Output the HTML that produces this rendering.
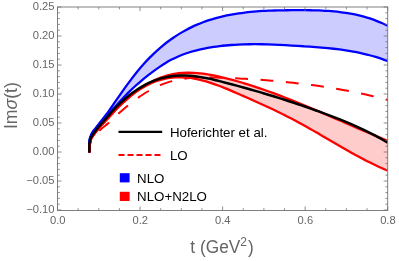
<!DOCTYPE html>
<html><head><meta charset="utf-8"><title>plot</title>
<style>html,body{margin:0;padding:0;background:#fff;}svg{display:block;will-change:transform;}</style></head>
<body>
<svg width="399" height="261" viewBox="0 0 399 261">
<defs><clipPath id="c"><rect x="57.50" y="7.00" width="330.20" height="203.50"/></clipPath></defs>
<rect width="399" height="261" fill="#fff"/>
<g clip-path="url(#c)" fill="none" stroke-linejoin="round">
<path d="M89.40,152.50 C89.37,151.25 89.20,147.00 89.20,145.00 C89.20,143.00 89.28,141.67 89.40,140.50 C89.52,139.33 89.60,139.00 89.90,138.00 C90.20,137.00 90.63,135.67 91.20,134.50 C91.77,133.33 92.67,131.92 93.30,131.00 C93.93,130.08 93.03,131.50 95.00,129.00 C96.97,126.50 102.78,119.00 105.10,116.00 C107.42,113.00 107.47,113.02 108.90,111.00 C110.33,108.98 111.91,106.50 113.70,103.89 C115.49,101.28 117.67,98.16 119.66,95.33 C121.64,92.50 123.63,89.67 125.61,86.92 C127.60,84.17 129.58,81.45 131.57,78.85 C133.56,76.24 135.54,73.69 137.53,71.26 C139.51,68.84 141.50,66.52 143.48,64.29 C145.47,62.07 147.45,59.94 149.44,57.91 C151.42,55.88 153.41,53.95 155.40,52.10 C157.38,50.25 159.37,48.49 161.35,46.81 C163.34,45.14 165.32,43.55 167.31,42.04 C169.29,40.52 171.28,39.09 173.27,37.73 C175.25,36.37 177.24,35.09 179.22,33.87 C181.21,32.66 183.19,31.51 185.18,30.43 C187.16,29.35 189.15,28.33 191.13,27.37 C193.12,26.41 195.11,25.51 197.09,24.67 C199.08,23.82 201.06,23.03 203.05,22.29 C205.03,21.55 207.02,20.86 209.00,20.21 C210.99,19.56 212.98,18.96 214.96,18.39 C216.95,17.82 218.93,17.30 220.92,16.81 C222.90,16.32 224.89,15.87 226.87,15.45 C228.86,15.03 230.84,14.65 232.83,14.30 C234.82,13.94 236.80,13.62 238.79,13.33 C240.77,13.03 242.76,12.77 244.74,12.53 C246.73,12.29 248.71,12.07 250.70,11.88 C252.69,11.69 254.67,11.52 256.66,11.37 C258.64,11.22 260.63,11.09 262.61,10.97 C264.60,10.86 266.58,10.77 268.57,10.68 C270.56,10.60 272.54,10.54 274.53,10.48 C276.51,10.42 278.50,10.38 280.48,10.35 C282.47,10.31 284.45,10.29 286.44,10.27 C288.42,10.24 290.41,10.23 292.40,10.22 C294.38,10.21 296.37,10.20 298.35,10.19 C300.34,10.19 302.32,10.19 304.31,10.20 C306.29,10.20 308.28,10.22 310.27,10.24 C312.25,10.27 314.24,10.31 316.22,10.36 C318.21,10.42 320.19,10.49 322.18,10.58 C324.16,10.67 326.15,10.78 328.13,10.91 C330.12,11.04 332.11,11.20 334.09,11.38 C336.08,11.57 338.06,11.78 340.05,12.02 C342.03,12.26 344.02,12.53 346.00,12.84 C347.99,13.15 349.98,13.49 351.96,13.88 C353.95,14.26 355.93,14.68 357.92,15.14 C359.90,15.61 361.89,16.11 363.87,16.66 C365.86,17.22 367.84,17.81 369.83,18.46 C371.82,19.11 373.80,19.81 375.79,20.57 C377.77,21.32 379.76,22.13 381.74,23.00 C383.73,23.86 386.71,25.31 387.70,25.77 L387.70,61.05 C386.70,60.69 383.70,59.57 381.70,58.89 C379.70,58.20 377.70,57.57 375.70,56.96 C373.69,56.36 371.69,55.79 369.69,55.26 C367.69,54.72 365.69,54.23 363.69,53.76 C361.69,53.29 359.69,52.86 357.69,52.45 C355.69,52.04 353.69,51.67 351.69,51.31 C349.69,50.96 347.69,50.64 345.68,50.33 C343.68,50.03 341.68,49.75 339.68,49.48 C337.68,49.22 335.68,48.98 333.68,48.75 C331.68,48.53 329.68,48.32 327.68,48.13 C325.68,47.93 323.68,47.75 321.68,47.58 C319.67,47.41 317.67,47.26 315.67,47.11 C313.67,46.96 311.67,46.82 309.67,46.68 C307.67,46.55 305.67,46.42 303.67,46.29 C301.67,46.16 299.67,46.03 297.67,45.91 C295.67,45.79 293.67,45.66 291.66,45.54 C289.66,45.42 287.66,45.31 285.66,45.20 C283.66,45.09 281.66,44.98 279.66,44.88 C277.66,44.79 275.66,44.70 273.66,44.62 C271.66,44.54 269.66,44.46 267.66,44.40 C265.65,44.35 263.65,44.30 261.65,44.26 C259.65,44.23 257.65,44.21 255.65,44.20 C253.65,44.19 251.65,44.20 249.65,44.23 C247.65,44.25 245.65,44.30 243.65,44.36 C241.65,44.42 239.65,44.50 237.64,44.61 C235.64,44.71 233.64,44.83 231.64,44.98 C229.64,45.13 227.64,45.29 225.64,45.49 C223.64,45.68 221.64,45.90 219.64,46.15 C217.64,46.40 215.64,46.67 213.64,46.97 C211.63,47.27 209.63,47.60 207.63,47.96 C205.63,48.33 203.63,48.71 201.63,49.14 C199.63,49.57 197.63,50.03 195.63,50.55 C193.63,51.06 191.63,51.61 189.63,52.23 C187.63,52.85 185.63,53.52 183.62,54.26 C181.62,55.01 179.62,55.81 177.62,56.70 C175.62,57.59 173.62,58.55 171.62,59.60 C169.62,60.65 167.62,61.79 165.62,63.00 C163.62,64.20 161.62,65.50 159.62,66.85 C157.61,68.21 155.61,69.63 153.61,71.11 C151.61,72.58 149.61,74.13 147.61,75.70 C145.61,77.28 143.61,78.91 141.61,80.58 C139.61,82.26 137.61,83.97 135.61,85.76 C133.61,87.55 131.61,89.40 129.60,91.34 C127.60,93.28 125.60,95.31 123.60,97.42 C121.60,99.52 119.60,101.71 117.60,103.98 C115.60,106.24 113.38,109.00 111.60,111.00 C109.82,113.00 109.03,113.67 106.90,116.00 C104.77,118.33 100.57,123.00 98.80,125.00 C97.03,127.00 97.10,127.00 96.30,128.00 C95.50,129.00 94.75,129.92 94.00,131.00 C93.25,132.08 92.40,133.33 91.80,134.50 C91.20,135.67 90.75,137.00 90.40,138.00 C90.05,139.00 89.88,139.33 89.70,140.50 C89.52,141.67 89.35,143.00 89.30,145.00 C89.25,147.00 89.38,151.25 89.40,152.50 Z" fill="#ccccff" stroke="none"/>
<path d="M89.40,152.50 C89.45,151.25 89.50,147.00 89.70,145.00 C89.90,143.00 90.28,141.67 90.60,140.50 C90.92,139.33 91.05,139.00 91.60,138.00 C92.15,137.00 93.07,135.67 93.90,134.50 C94.73,133.33 95.73,132.08 96.60,131.00 C97.47,129.92 98.25,129.00 99.10,128.00 C99.95,127.00 99.87,127.00 101.70,125.00 C103.53,123.00 107.83,118.48 110.10,116.00 C112.37,113.52 113.42,112.10 115.30,110.11 C117.18,108.13 119.34,106.02 121.35,104.09 C123.37,102.17 125.39,100.32 127.41,98.56 C129.42,96.80 131.44,95.13 133.46,93.54 C135.48,91.95 137.50,90.45 139.51,89.04 C141.53,87.63 143.55,86.30 145.57,85.07 C147.58,83.84 149.60,82.70 151.62,81.66 C153.64,80.62 155.66,79.67 157.67,78.82 C159.69,77.97 161.71,77.22 163.73,76.56 C165.74,75.90 167.76,75.34 169.78,74.87 C171.80,74.39 173.82,74.00 175.83,73.69 C177.85,73.38 179.87,73.16 181.89,73.00 C183.90,72.84 185.92,72.76 187.94,72.73 C189.96,72.71 191.98,72.76 193.99,72.86 C196.01,72.96 198.03,73.12 200.05,73.33 C202.06,73.54 204.08,73.80 206.10,74.10 C208.12,74.40 210.14,74.76 212.15,75.14 C214.17,75.52 216.19,75.94 218.21,76.38 C220.22,76.83 222.24,77.31 224.26,77.80 C226.28,78.29 228.30,78.81 230.31,79.35 C232.33,79.88 234.35,80.43 236.37,81.00 C238.38,81.57 240.40,82.16 242.42,82.76 C244.44,83.37 246.46,83.99 248.47,84.62 C250.49,85.26 252.51,85.91 254.53,86.57 C256.54,87.24 258.56,87.92 260.58,88.61 C262.60,89.31 264.62,90.01 266.63,90.73 C268.65,91.45 270.67,92.18 272.69,92.92 C274.70,93.67 276.72,94.42 278.74,95.19 C280.76,95.95 282.78,96.73 284.79,97.51 C286.81,98.29 288.83,99.09 290.85,99.89 C292.86,100.69 294.88,101.50 296.90,102.32 C298.92,103.14 300.94,103.96 302.95,104.80 C304.97,105.63 306.99,106.47 309.01,107.31 C311.02,108.15 313.04,109.00 315.06,109.86 C317.08,110.71 319.10,111.57 321.11,112.43 C323.13,113.29 325.15,114.16 327.17,115.03 C329.18,115.89 331.20,116.76 333.22,117.64 C335.24,118.51 337.26,119.38 339.27,120.25 C341.29,121.13 343.31,122.00 345.33,122.88 C347.34,123.75 349.36,124.62 351.38,125.49 C353.40,126.37 355.42,127.24 357.43,128.10 C359.45,128.97 361.47,129.84 363.49,130.70 C365.50,131.56 367.52,132.42 369.54,133.27 C371.56,134.13 373.58,134.98 375.59,135.82 C377.61,136.66 379.63,137.50 381.65,138.33 C383.66,139.16 386.69,140.40 387.70,140.81 L387.70,170.64 C386.69,170.21 383.66,168.95 381.65,168.05 C379.63,167.15 377.61,166.22 375.59,165.26 C373.58,164.30 371.56,163.31 369.54,162.30 C367.52,161.29 365.50,160.25 363.49,159.20 C361.47,158.14 359.45,157.06 357.43,155.97 C355.42,154.87 353.40,153.76 351.38,152.63 C349.36,151.50 347.34,150.36 345.33,149.21 C343.31,148.06 341.29,146.90 339.27,145.73 C337.26,144.56 335.24,143.39 333.22,142.21 C331.20,141.04 329.18,139.85 327.17,138.67 C325.15,137.50 323.13,136.31 321.11,135.14 C319.10,133.97 317.08,132.79 315.06,131.63 C313.04,130.47 311.02,129.31 309.01,128.17 C306.99,127.03 304.97,125.90 302.95,124.78 C300.94,123.67 298.92,122.56 296.90,121.48 C294.88,120.40 292.86,119.33 290.85,118.29 C288.83,117.24 286.81,116.22 284.79,115.21 C282.78,114.19 280.76,113.20 278.74,112.22 C276.72,111.24 274.70,110.27 272.69,109.32 C270.67,108.36 268.65,107.42 266.63,106.49 C264.62,105.56 262.60,104.64 260.58,103.72 C258.56,102.81 256.54,101.90 254.53,101.00 C252.51,100.10 250.49,99.21 248.47,98.31 C246.46,97.42 244.44,96.54 242.42,95.65 C240.40,94.77 238.38,93.88 236.37,93.00 C234.35,92.13 232.33,91.25 230.31,90.39 C228.30,89.54 226.28,88.69 224.26,87.87 C222.24,87.06 220.22,86.26 218.21,85.50 C216.19,84.75 214.17,84.01 212.15,83.33 C210.14,82.65 208.12,82.01 206.10,81.42 C204.08,80.83 202.06,80.29 200.05,79.81 C198.03,79.34 196.01,78.91 193.99,78.57 C191.98,78.22 189.96,77.93 187.94,77.72 C185.92,77.51 183.90,77.36 181.89,77.31 C179.87,77.25 177.85,77.26 175.83,77.37 C173.82,77.47 171.80,77.65 169.78,77.93 C167.76,78.21 165.74,78.58 163.73,79.04 C161.71,79.51 159.69,80.07 157.67,80.74 C155.66,81.40 153.64,82.17 151.62,83.04 C149.60,83.92 147.58,84.90 145.57,86.00 C143.55,87.10 141.53,88.32 139.51,89.64 C137.50,90.96 135.48,92.40 133.46,93.93 C131.44,95.46 129.42,97.10 127.41,98.82 C125.39,100.54 123.37,102.37 121.35,104.27 C119.34,106.17 117.18,108.27 115.30,110.23 C113.42,112.19 112.37,113.54 110.10,116.00 C107.83,118.46 103.53,123.00 101.70,125.00 C99.87,127.00 99.95,127.00 99.10,128.00 C98.25,129.00 97.47,129.92 96.60,131.00 C95.73,132.08 94.73,133.33 93.90,134.50 C93.07,135.67 92.15,137.00 91.60,138.00 C91.05,139.00 90.92,139.33 90.60,140.50 C90.28,141.67 89.90,143.00 89.70,145.00 C89.50,147.00 89.45,151.25 89.40,152.50 Z" fill="#ffcccc" stroke="none"/>
<path d="M89.40,152.50 C89.37,151.25 89.20,147.00 89.20,145.00 C89.20,143.00 89.28,141.67 89.40,140.50 C89.52,139.33 89.60,139.00 89.90,138.00 C90.20,137.00 90.63,135.67 91.20,134.50 C91.77,133.33 92.67,131.92 93.30,131.00 C93.93,130.08 93.03,131.50 95.00,129.00 C96.97,126.50 102.78,119.00 105.10,116.00 C107.42,113.00 107.47,113.02 108.90,111.00 C110.33,108.98 111.91,106.50 113.70,103.89 C115.49,101.28 117.67,98.16 119.66,95.33 C121.64,92.50 123.63,89.67 125.61,86.92 C127.60,84.17 129.58,81.45 131.57,78.85 C133.56,76.24 135.54,73.69 137.53,71.26 C139.51,68.84 141.50,66.52 143.48,64.29 C145.47,62.07 147.45,59.94 149.44,57.91 C151.42,55.88 153.41,53.95 155.40,52.10 C157.38,50.25 159.37,48.49 161.35,46.81 C163.34,45.14 165.32,43.55 167.31,42.04 C169.29,40.52 171.28,39.09 173.27,37.73 C175.25,36.37 177.24,35.09 179.22,33.87 C181.21,32.66 183.19,31.51 185.18,30.43 C187.16,29.35 189.15,28.33 191.13,27.37 C193.12,26.41 195.11,25.51 197.09,24.67 C199.08,23.82 201.06,23.03 203.05,22.29 C205.03,21.55 207.02,20.86 209.00,20.21 C210.99,19.56 212.98,18.96 214.96,18.39 C216.95,17.82 218.93,17.30 220.92,16.81 C222.90,16.32 224.89,15.87 226.87,15.45 C228.86,15.03 230.84,14.65 232.83,14.30 C234.82,13.94 236.80,13.62 238.79,13.33 C240.77,13.03 242.76,12.77 244.74,12.53 C246.73,12.29 248.71,12.07 250.70,11.88 C252.69,11.69 254.67,11.52 256.66,11.37 C258.64,11.22 260.63,11.09 262.61,10.97 C264.60,10.86 266.58,10.77 268.57,10.68 C270.56,10.60 272.54,10.54 274.53,10.48 C276.51,10.42 278.50,10.38 280.48,10.35 C282.47,10.31 284.45,10.29 286.44,10.27 C288.42,10.24 290.41,10.23 292.40,10.22 C294.38,10.21 296.37,10.20 298.35,10.19 C300.34,10.19 302.32,10.19 304.31,10.20 C306.29,10.20 308.28,10.22 310.27,10.24 C312.25,10.27 314.24,10.31 316.22,10.36 C318.21,10.42 320.19,10.49 322.18,10.58 C324.16,10.67 326.15,10.78 328.13,10.91 C330.12,11.04 332.11,11.20 334.09,11.38 C336.08,11.57 338.06,11.78 340.05,12.02 C342.03,12.26 344.02,12.53 346.00,12.84 C347.99,13.15 349.98,13.49 351.96,13.88 C353.95,14.26 355.93,14.68 357.92,15.14 C359.90,15.61 361.89,16.11 363.87,16.66 C365.86,17.22 367.84,17.81 369.83,18.46 C371.82,19.11 373.80,19.81 375.79,20.57 C377.77,21.32 379.76,22.13 381.74,23.00 C383.73,23.86 386.71,25.31 387.70,25.77" stroke="#0000ff" stroke-width="2.3"/>
<path d="M89.40,152.50 C89.38,151.25 89.25,147.00 89.30,145.00 C89.35,143.00 89.52,141.67 89.70,140.50 C89.88,139.33 90.05,139.00 90.40,138.00 C90.75,137.00 91.20,135.67 91.80,134.50 C92.40,133.33 93.25,132.08 94.00,131.00 C94.75,129.92 95.50,129.00 96.30,128.00 C97.10,127.00 97.03,127.00 98.80,125.00 C100.57,123.00 104.77,118.33 106.90,116.00 C109.03,113.67 109.82,113.00 111.60,111.00 C113.38,109.00 115.60,106.24 117.60,103.98 C119.60,101.71 121.60,99.52 123.60,97.42 C125.60,95.31 127.60,93.28 129.60,91.34 C131.61,89.40 133.61,87.55 135.61,85.76 C137.61,83.97 139.61,82.26 141.61,80.58 C143.61,78.91 145.61,77.28 147.61,75.70 C149.61,74.13 151.61,72.58 153.61,71.11 C155.61,69.63 157.61,68.21 159.62,66.85 C161.62,65.50 163.62,64.20 165.62,63.00 C167.62,61.79 169.62,60.65 171.62,59.60 C173.62,58.55 175.62,57.59 177.62,56.70 C179.62,55.81 181.62,55.01 183.62,54.26 C185.63,53.52 187.63,52.85 189.63,52.23 C191.63,51.61 193.63,51.06 195.63,50.55 C197.63,50.03 199.63,49.57 201.63,49.14 C203.63,48.71 205.63,48.33 207.63,47.96 C209.63,47.60 211.63,47.27 213.64,46.97 C215.64,46.67 217.64,46.40 219.64,46.15 C221.64,45.90 223.64,45.68 225.64,45.49 C227.64,45.29 229.64,45.13 231.64,44.98 C233.64,44.83 235.64,44.71 237.64,44.61 C239.65,44.50 241.65,44.42 243.65,44.36 C245.65,44.30 247.65,44.25 249.65,44.23 C251.65,44.20 253.65,44.19 255.65,44.20 C257.65,44.21 259.65,44.23 261.65,44.26 C263.65,44.30 265.65,44.35 267.66,44.40 C269.66,44.46 271.66,44.54 273.66,44.62 C275.66,44.70 277.66,44.79 279.66,44.88 C281.66,44.98 283.66,45.09 285.66,45.20 C287.66,45.31 289.66,45.42 291.66,45.54 C293.67,45.66 295.67,45.79 297.67,45.91 C299.67,46.03 301.67,46.16 303.67,46.29 C305.67,46.42 307.67,46.55 309.67,46.68 C311.67,46.82 313.67,46.96 315.67,47.11 C317.67,47.26 319.67,47.41 321.68,47.58 C323.68,47.75 325.68,47.93 327.68,48.13 C329.68,48.32 331.68,48.53 333.68,48.75 C335.68,48.98 337.68,49.22 339.68,49.48 C341.68,49.75 343.68,50.03 345.68,50.33 C347.69,50.64 349.69,50.96 351.69,51.31 C353.69,51.67 355.69,52.04 357.69,52.45 C359.69,52.86 361.69,53.29 363.69,53.76 C365.69,54.23 367.69,54.72 369.69,55.26 C371.69,55.79 373.69,56.36 375.70,56.96 C377.70,57.57 379.70,58.20 381.70,58.89 C383.70,59.57 386.70,60.69 387.70,61.05" stroke="#0000ff" stroke-width="2.3"/>
<path d="M89.40,152.50 C89.45,151.25 89.50,147.00 89.70,145.00 C89.90,143.00 90.28,141.67 90.60,140.50 C90.92,139.33 91.05,139.00 91.60,138.00 C92.15,137.00 93.07,135.67 93.90,134.50 C94.73,133.33 95.73,132.08 96.60,131.00 C97.47,129.92 98.25,129.00 99.10,128.00 C99.95,127.00 99.87,127.00 101.70,125.00 C103.53,123.00 107.83,118.48 110.10,116.00 C112.37,113.52 113.42,112.10 115.30,110.11 C117.18,108.13 119.34,106.02 121.35,104.09 C123.37,102.17 125.39,100.32 127.41,98.56 C129.42,96.80 131.44,95.13 133.46,93.54 C135.48,91.95 137.50,90.45 139.51,89.04 C141.53,87.63 143.55,86.30 145.57,85.07 C147.58,83.84 149.60,82.70 151.62,81.66 C153.64,80.62 155.66,79.67 157.67,78.82 C159.69,77.97 161.71,77.22 163.73,76.56 C165.74,75.90 167.76,75.34 169.78,74.87 C171.80,74.39 173.82,74.00 175.83,73.69 C177.85,73.38 179.87,73.16 181.89,73.00 C183.90,72.84 185.92,72.76 187.94,72.73 C189.96,72.71 191.98,72.76 193.99,72.86 C196.01,72.96 198.03,73.12 200.05,73.33 C202.06,73.54 204.08,73.80 206.10,74.10 C208.12,74.40 210.14,74.76 212.15,75.14 C214.17,75.52 216.19,75.94 218.21,76.38 C220.22,76.83 222.24,77.31 224.26,77.80 C226.28,78.29 228.30,78.81 230.31,79.35 C232.33,79.88 234.35,80.43 236.37,81.00 C238.38,81.57 240.40,82.16 242.42,82.76 C244.44,83.37 246.46,83.99 248.47,84.62 C250.49,85.26 252.51,85.91 254.53,86.57 C256.54,87.24 258.56,87.92 260.58,88.61 C262.60,89.31 264.62,90.01 266.63,90.73 C268.65,91.45 270.67,92.18 272.69,92.92 C274.70,93.67 276.72,94.42 278.74,95.19 C280.76,95.95 282.78,96.73 284.79,97.51 C286.81,98.29 288.83,99.09 290.85,99.89 C292.86,100.69 294.88,101.50 296.90,102.32 C298.92,103.14 300.94,103.96 302.95,104.80 C304.97,105.63 306.99,106.47 309.01,107.31 C311.02,108.15 313.04,109.00 315.06,109.86 C317.08,110.71 319.10,111.57 321.11,112.43 C323.13,113.29 325.15,114.16 327.17,115.03 C329.18,115.89 331.20,116.76 333.22,117.64 C335.24,118.51 337.26,119.38 339.27,120.25 C341.29,121.13 343.31,122.00 345.33,122.88 C347.34,123.75 349.36,124.62 351.38,125.49 C353.40,126.37 355.42,127.24 357.43,128.10 C359.45,128.97 361.47,129.84 363.49,130.70 C365.50,131.56 367.52,132.42 369.54,133.27 C371.56,134.13 373.58,134.98 375.59,135.82 C377.61,136.66 379.63,137.50 381.65,138.33 C383.66,139.16 386.69,140.40 387.70,140.81" stroke="#ff0000" stroke-width="2.3"/>
<path d="M89.40,152.50 C89.45,151.25 89.50,147.00 89.70,145.00 C89.90,143.00 90.28,141.67 90.60,140.50 C90.92,139.33 91.05,139.00 91.60,138.00 C92.15,137.00 93.07,135.67 93.90,134.50 C94.73,133.33 95.73,132.08 96.60,131.00 C97.47,129.92 98.25,129.00 99.10,128.00 C99.95,127.00 99.87,127.00 101.70,125.00 C103.53,123.00 107.83,118.46 110.10,116.00 C112.37,113.54 113.42,112.19 115.30,110.23 C117.18,108.27 119.34,106.17 121.35,104.27 C123.37,102.37 125.39,100.54 127.41,98.82 C129.42,97.10 131.44,95.46 133.46,93.93 C135.48,92.40 137.50,90.96 139.51,89.64 C141.53,88.32 143.55,87.10 145.57,86.00 C147.58,84.90 149.60,83.92 151.62,83.04 C153.64,82.17 155.66,81.40 157.67,80.74 C159.69,80.07 161.71,79.51 163.73,79.04 C165.74,78.58 167.76,78.21 169.78,77.93 C171.80,77.65 173.82,77.47 175.83,77.37 C177.85,77.26 179.87,77.25 181.89,77.31 C183.90,77.36 185.92,77.51 187.94,77.72 C189.96,77.93 191.98,78.22 193.99,78.57 C196.01,78.91 198.03,79.34 200.05,79.81 C202.06,80.29 204.08,80.83 206.10,81.42 C208.12,82.01 210.14,82.65 212.15,83.33 C214.17,84.01 216.19,84.75 218.21,85.50 C220.22,86.26 222.24,87.06 224.26,87.87 C226.28,88.69 228.30,89.54 230.31,90.39 C232.33,91.25 234.35,92.13 236.37,93.00 C238.38,93.88 240.40,94.77 242.42,95.65 C244.44,96.54 246.46,97.42 248.47,98.31 C250.49,99.21 252.51,100.10 254.53,101.00 C256.54,101.90 258.56,102.81 260.58,103.72 C262.60,104.64 264.62,105.56 266.63,106.49 C268.65,107.42 270.67,108.36 272.69,109.32 C274.70,110.27 276.72,111.24 278.74,112.22 C280.76,113.20 282.78,114.19 284.79,115.21 C286.81,116.22 288.83,117.24 290.85,118.29 C292.86,119.33 294.88,120.40 296.90,121.48 C298.92,122.56 300.94,123.67 302.95,124.78 C304.97,125.90 306.99,127.03 309.01,128.17 C311.02,129.31 313.04,130.47 315.06,131.63 C317.08,132.79 319.10,133.97 321.11,135.14 C323.13,136.31 325.15,137.50 327.17,138.67 C329.18,139.85 331.20,141.04 333.22,142.21 C335.24,143.39 337.26,144.56 339.27,145.73 C341.29,146.90 343.31,148.06 345.33,149.21 C347.34,150.36 349.36,151.50 351.38,152.63 C353.40,153.76 355.42,154.87 357.43,155.97 C359.45,157.06 361.47,158.14 363.49,159.20 C365.50,160.25 367.52,161.29 369.54,162.30 C371.56,163.31 373.58,164.30 375.59,165.26 C377.61,166.22 379.63,167.15 381.65,168.05 C383.66,168.95 386.69,170.21 387.70,170.64" stroke="#ff0000" stroke-width="2.3"/>
<path d="M89.50,152.50 C89.57,151.25 89.53,147.08 89.90,145.00 C90.27,142.92 90.82,141.50 91.70,140.00 C92.58,138.50 93.67,137.80 95.20,136.00 C96.73,134.20 98.62,131.40 100.90,129.20 C103.18,127.00 106.05,125.32 108.90,122.80 C111.75,120.28 115.48,116.44 118.00,114.10 C120.52,111.77 122.03,110.51 124.04,108.79 C126.06,107.07 128.07,105.39 130.09,103.79 C132.10,102.19 134.12,100.65 136.13,99.18 C138.15,97.72 140.16,96.31 142.18,94.99 C144.19,93.67 146.21,92.42 148.22,91.24 C150.24,90.07 152.25,88.97 154.27,87.96 C156.28,86.95 158.30,86.02 160.31,85.17 C162.33,84.33 164.34,83.57 166.36,82.89 C168.37,82.21 170.39,81.61 172.40,81.07 C174.41,80.54 176.43,80.08 178.44,79.67 C180.46,79.27 182.47,78.94 184.49,78.65 C186.50,78.36 188.52,78.14 190.53,77.95 C192.55,77.76 194.56,77.63 196.58,77.53 C198.59,77.43 200.61,77.37 202.62,77.34 C204.64,77.30 206.65,77.31 208.67,77.33 C210.68,77.35 212.70,77.40 214.71,77.45 C216.73,77.51 218.74,77.59 220.76,77.67 C222.77,77.75 224.79,77.83 226.80,77.92 C228.81,78.01 230.83,78.11 232.84,78.20 C234.86,78.30 236.87,78.40 238.89,78.51 C240.90,78.62 242.92,78.73 244.93,78.85 C246.95,78.96 248.96,79.09 250.98,79.21 C252.99,79.34 255.01,79.47 257.02,79.61 C259.04,79.75 261.05,79.89 263.07,80.04 C265.08,80.19 267.10,80.35 269.11,80.51 C271.13,80.67 273.14,80.84 275.16,81.02 C277.17,81.19 279.19,81.37 281.20,81.56 C283.21,81.75 285.23,81.95 287.24,82.15 C289.26,82.35 291.27,82.56 293.29,82.78 C295.30,83.00 297.32,83.23 299.33,83.46 C301.35,83.69 303.36,83.93 305.38,84.19 C307.39,84.44 309.41,84.69 311.42,84.96 C313.44,85.23 315.45,85.50 317.47,85.79 C319.48,86.07 321.50,86.37 323.51,86.67 C325.53,86.98 327.54,87.29 329.56,87.61 C331.57,87.93 333.59,88.26 335.60,88.61 C337.61,88.95 339.63,89.30 341.64,89.66 C343.66,90.03 345.67,90.40 347.69,90.78 C349.70,91.17 351.72,91.56 353.73,91.96 C355.75,92.37 357.76,92.79 359.78,93.21 C361.79,93.64 363.81,94.08 365.82,94.53 C367.84,94.98 369.85,95.44 371.87,95.92 C373.88,96.39 375.90,96.88 377.91,97.38 C379.93,97.87 381.94,98.38 383.96,98.91 C385.97,99.43 388.99,100.25 390.00,100.52" stroke="#ff0000" stroke-width="2.0" stroke-dasharray="12.9 12.5" stroke-dashoffset="0.6"/>
<path d="M89.40,152.50 C89.40,151.25 89.30,147.00 89.40,145.00 C89.50,143.00 89.75,141.67 90.00,140.50 C90.25,139.33 90.42,139.00 90.90,138.00 C91.38,137.00 92.15,135.67 92.90,134.50 C93.65,133.33 94.58,132.08 95.40,131.00 C96.22,129.92 96.98,129.00 97.80,128.00 C98.62,127.00 98.57,127.00 100.30,125.00 C102.03,123.00 106.08,118.42 108.20,116.00 C110.32,113.58 111.20,112.39 113.00,110.46 C114.80,108.53 116.98,106.34 118.97,104.42 C120.96,102.50 122.95,100.68 124.94,98.96 C126.93,97.24 128.92,95.61 130.92,94.08 C132.91,92.55 134.90,91.12 136.89,89.78 C138.88,88.44 140.87,87.20 142.86,86.06 C144.85,84.91 146.84,83.86 148.83,82.91 C150.82,81.96 152.81,81.10 154.80,80.34 C156.79,79.58 158.78,78.91 160.77,78.34 C162.76,77.77 164.76,77.30 166.75,76.90 C168.74,76.51 170.73,76.21 172.72,75.98 C174.71,75.75 176.70,75.61 178.69,75.53 C180.68,75.45 182.67,75.45 184.66,75.50 C186.65,75.55 188.64,75.67 190.63,75.83 C192.62,76.00 194.61,76.23 196.60,76.49 C198.59,76.76 200.59,77.08 202.58,77.43 C204.57,77.78 206.56,78.17 208.55,78.59 C210.54,79.00 212.53,79.45 214.52,79.92 C216.51,80.38 218.50,80.88 220.49,81.38 C222.48,81.88 224.47,82.40 226.46,82.92 C228.45,83.44 230.44,83.96 232.43,84.49 C234.43,85.03 236.42,85.56 238.41,86.11 C240.40,86.65 242.39,87.20 244.38,87.75 C246.37,88.31 248.36,88.87 250.35,89.43 C252.34,90.00 254.33,90.57 256.32,91.15 C258.31,91.73 260.30,92.31 262.29,92.90 C264.28,93.50 266.27,94.09 268.27,94.70 C270.26,95.30 272.25,95.91 274.24,96.53 C276.23,97.14 278.22,97.76 280.21,98.39 C282.20,99.02 284.19,99.66 286.18,100.30 C288.17,100.95 290.16,101.59 292.15,102.25 C294.14,102.91 296.13,103.57 298.12,104.24 C300.11,104.91 302.11,105.59 304.10,106.27 C306.09,106.96 308.08,107.65 310.07,108.35 C312.06,109.04 314.05,109.75 316.04,110.46 C318.03,111.18 320.02,111.89 322.01,112.62 C324.00,113.35 325.99,114.09 327.98,114.83 C329.97,115.58 331.96,116.34 333.95,117.11 C335.94,117.88 337.94,118.66 339.93,119.46 C341.92,120.26 343.91,121.07 345.90,121.90 C347.89,122.73 349.88,123.58 351.87,124.45 C353.86,125.32 355.85,126.20 357.84,127.11 C359.83,128.03 361.82,128.96 363.81,129.91 C365.80,130.87 367.79,131.85 369.78,132.86 C371.78,133.87 373.77,134.90 375.76,135.97 C377.75,137.04 379.74,138.13 381.73,139.25 C383.72,140.38 386.70,142.15 387.70,142.73" stroke="#000" stroke-width="2.5"/>
</g>
<path d="M57.50,210.50L57.50,206.50 M57.50,7.00L57.50,11.00 M78.14,210.50L78.14,208.20 M78.14,7.00L78.14,9.30 M98.78,210.50L98.78,208.20 M98.78,7.00L98.78,9.30 M119.41,210.50L119.41,208.20 M119.41,7.00L119.41,9.30 M140.05,210.50L140.05,206.50 M140.05,7.00L140.05,11.00 M160.69,210.50L160.69,208.20 M160.69,7.00L160.69,9.30 M181.33,210.50L181.33,208.20 M181.33,7.00L181.33,9.30 M201.96,210.50L201.96,208.20 M201.96,7.00L201.96,9.30 M222.60,210.50L222.60,206.50 M222.60,7.00L222.60,11.00 M243.24,210.50L243.24,208.20 M243.24,7.00L243.24,9.30 M263.88,210.50L263.88,208.20 M263.88,7.00L263.88,9.30 M284.51,210.50L284.51,208.20 M284.51,7.00L284.51,9.30 M305.15,210.50L305.15,206.50 M305.15,7.00L305.15,11.00 M325.79,210.50L325.79,208.20 M325.79,7.00L325.79,9.30 M346.43,210.50L346.43,208.20 M346.43,7.00L346.43,9.30 M367.06,210.50L367.06,208.20 M367.06,7.00L367.06,9.30 M387.70,210.50L387.70,206.50 M387.70,7.00L387.70,11.00 M57.50,210.00L61.50,210.00 M387.70,210.00L383.70,210.00 M57.50,204.20L59.80,204.20 M387.70,204.20L385.40,204.20 M57.50,198.40L59.80,198.40 M387.70,198.40L385.40,198.40 M57.50,192.60L59.80,192.60 M387.70,192.60L385.40,192.60 M57.50,186.80L59.80,186.80 M387.70,186.80L385.40,186.80 M57.50,181.00L61.50,181.00 M387.70,181.00L383.70,181.00 M57.50,175.20L59.80,175.20 M387.70,175.20L385.40,175.20 M57.50,169.40L59.80,169.40 M387.70,169.40L385.40,169.40 M57.50,163.60L59.80,163.60 M387.70,163.60L385.40,163.60 M57.50,157.80L59.80,157.80 M387.70,157.80L385.40,157.80 M57.50,152.00L61.50,152.00 M387.70,152.00L383.70,152.00 M57.50,146.20L59.80,146.20 M387.70,146.20L385.40,146.20 M57.50,140.40L59.80,140.40 M387.70,140.40L385.40,140.40 M57.50,134.60L59.80,134.60 M387.70,134.60L385.40,134.60 M57.50,128.80L59.80,128.80 M387.70,128.80L385.40,128.80 M57.50,123.00L61.50,123.00 M387.70,123.00L383.70,123.00 M57.50,117.20L59.80,117.20 M387.70,117.20L385.40,117.20 M57.50,111.40L59.80,111.40 M387.70,111.40L385.40,111.40 M57.50,105.60L59.80,105.60 M387.70,105.60L385.40,105.60 M57.50,99.80L59.80,99.80 M387.70,99.80L385.40,99.80 M57.50,94.00L61.50,94.00 M387.70,94.00L383.70,94.00 M57.50,88.20L59.80,88.20 M387.70,88.20L385.40,88.20 M57.50,82.40L59.80,82.40 M387.70,82.40L385.40,82.40 M57.50,76.60L59.80,76.60 M387.70,76.60L385.40,76.60 M57.50,70.80L59.80,70.80 M387.70,70.80L385.40,70.80 M57.50,65.00L61.50,65.00 M387.70,65.00L383.70,65.00 M57.50,59.20L59.80,59.20 M387.70,59.20L385.40,59.20 M57.50,53.40L59.80,53.40 M387.70,53.40L385.40,53.40 M57.50,47.60L59.80,47.60 M387.70,47.60L385.40,47.60 M57.50,41.80L59.80,41.80 M387.70,41.80L385.40,41.80 M57.50,36.00L61.50,36.00 M387.70,36.00L383.70,36.00 M57.50,30.20L59.80,30.20 M387.70,30.20L385.40,30.20 M57.50,24.40L59.80,24.40 M387.70,24.40L385.40,24.40 M57.50,18.60L59.80,18.60 M387.70,18.60L385.40,18.60 M57.50,12.80L59.80,12.80 M387.70,12.80L385.40,12.80 M57.50,7.00L61.50,7.00 M387.70,7.00L383.70,7.00" stroke="#707070" stroke-width="0.8" fill="none"/>
<rect x="57.50" y="7.00" width="330.20" height="203.50" fill="none" stroke="#727272" stroke-width="0.9"/>
<text transform="translate(57.70,223.90) scale(1.045,1)" font-family="'Liberation Sans', sans-serif" font-size="10.70px" fill="#666" text-anchor="middle">0.0</text>
<text transform="translate(140.25,223.90) scale(1.045,1)" font-family="'Liberation Sans', sans-serif" font-size="10.70px" fill="#666" text-anchor="middle">0.2</text>
<text transform="translate(222.80,223.90) scale(1.045,1)" font-family="'Liberation Sans', sans-serif" font-size="10.70px" fill="#666" text-anchor="middle">0.4</text>
<text transform="translate(305.35,223.90) scale(1.045,1)" font-family="'Liberation Sans', sans-serif" font-size="10.70px" fill="#666" text-anchor="middle">0.6</text>
<text transform="translate(387.90,223.90) scale(1.045,1)" font-family="'Liberation Sans', sans-serif" font-size="10.70px" fill="#666" text-anchor="middle">0.8</text>
<text transform="translate(54.50,9.50) scale(1.045,1)" font-family="'Liberation Sans', sans-serif" font-size="10.70px" fill="#666" text-anchor="end">0.25</text>
<text transform="translate(54.50,38.50) scale(1.045,1)" font-family="'Liberation Sans', sans-serif" font-size="10.70px" fill="#666" text-anchor="end">0.20</text>
<text transform="translate(54.50,67.50) scale(1.045,1)" font-family="'Liberation Sans', sans-serif" font-size="10.70px" fill="#666" text-anchor="end">0.15</text>
<text transform="translate(54.50,96.50) scale(1.045,1)" font-family="'Liberation Sans', sans-serif" font-size="10.70px" fill="#666" text-anchor="end">0.10</text>
<text transform="translate(54.50,125.50) scale(1.045,1)" font-family="'Liberation Sans', sans-serif" font-size="10.70px" fill="#666" text-anchor="end">0.05</text>
<text transform="translate(54.50,154.50) scale(1.045,1)" font-family="'Liberation Sans', sans-serif" font-size="10.70px" fill="#666" text-anchor="end">0.00</text>
<text transform="translate(54.50,183.50) scale(1.045,1)" font-family="'Liberation Sans', sans-serif" font-size="10.70px" fill="#666" text-anchor="end">−0.05</text>
<text transform="translate(54.50,212.50) scale(1.045,1)" font-family="'Liberation Sans', sans-serif" font-size="10.70px" fill="#666" text-anchor="end">−0.10</text>
<text transform="translate(222.10,253.30) scale(0.960,1)" font-family="'Liberation Sans', sans-serif" font-size="18.00px" fill="#666" text-anchor="middle">t (GeV<tspan font-size="12.5px" dy="-7.5">2</tspan><tspan dy="7.5" dx="1.2">)</tspan></text>
<text transform="translate(16.6,105.6) rotate(-90) scale(1.005,1)" font-family="'Liberation Sans', sans-serif" font-size="17.6px" fill="#666" text-anchor="middle">Im<tspan font-style="italic">σ</tspan>(t)</text>
<path d="M118.5,131.9H162.2" stroke="#000" stroke-width="2.1" fill="none"/>
<path d="M118.5,155H160.6" stroke="#ff0000" stroke-width="1.9" fill="none" stroke-dasharray="6 3"/>
<rect x="119.8" y="173.2" width="9.8" height="9.2" fill="#0000ff"/>
<rect x="119.8" y="191.8" width="9.8" height="9.2" fill="#ff0000"/>
<text transform="translate(169.90,137.00) scale(1.000,1)" font-family="'Liberation Sans', sans-serif" font-size="13.30px" fill="#000" text-anchor="start">Hoferichter et al.</text>
<text transform="translate(169.90,160.00) scale(1.000,1)" font-family="'Liberation Sans', sans-serif" font-size="13.30px" fill="#000" text-anchor="start">LO</text>
<text transform="translate(137.10,182.50) scale(1.000,1)" font-family="'Liberation Sans', sans-serif" font-size="13.30px" fill="#000" text-anchor="start">NLO</text>
<text transform="translate(137.10,201.20) scale(1.000,1)" font-family="'Liberation Sans', sans-serif" font-size="13.30px" fill="#000" text-anchor="start">NLO+N2LO</text>
</svg>
</body></html>
